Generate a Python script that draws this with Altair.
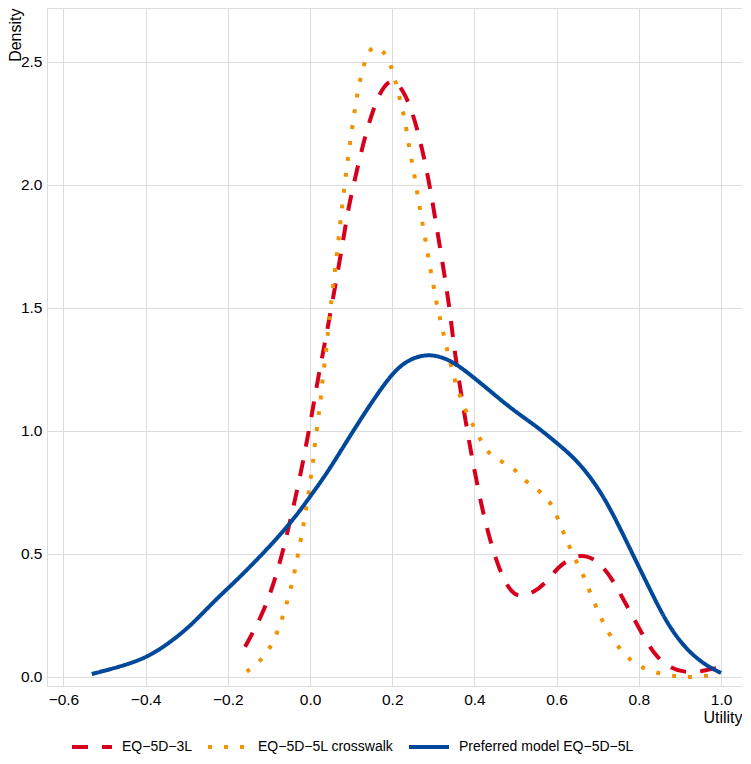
import altair as alt
import pandas as pd

S3L = "EQ\u22125D\u22123L"
SCW = "EQ\u22125D\u22125L crosswalk"
SPM = "Preferred model EQ\u22125D\u22125L"

# EQ-5D-3L (dashed red)
x_3l = [-0.158, -0.118, -0.089, -0.065, -0.045, -0.024, -0.008, 0.008, 0.02, 0.041,
        0.066, 0.08, 0.093, 0.114, 0.134, 0.158, 0.178, 0.202, 0.226, 0.248, 0.268, 0.28,
        0.292, 0.304, 0.316, 0.328, 0.341, 0.353, 0.382, 0.394, 0.414, 0.433, 0.455, 0.479,
        0.506, 0.543, 0.576, 0.603, 0.64, 0.673, 0.706, 0.737, 0.759, 0.786, 0.82, 0.844,
        0.876, 0.908, 0.949, 0.973, 0.998]
y_3l = [0.123, 0.245, 0.374, 0.516, 0.659, 0.814, 0.957, 1.099, 1.221, 1.40,
        1.634, 1.768, 1.906, 2.06, 2.2, 2.33, 2.4, 2.435, 2.386, 2.305, 2.18, 2.09,
        1.99, 1.87, 1.748, 1.626, 1.48, 1.30, 1.004, 0.894, 0.72, 0.585, 0.463, 0.366,
        0.321, 0.341, 0.386, 0.447, 0.49, 0.496, 0.463, 0.394, 0.325, 0.244, 0.138, 0.081,
        0.037, 0.02, 0.02, 0.033, 0.037]

# EQ-5D-5L crosswalk (dotted orange)
x_cw = [-0.154, -0.122, -0.097, -0.079, -0.065, -0.053, -0.043, -0.034, -0.026, -0.018,
        -0.011, -0.004, 0.002, 0.008, 0.012, 0.018, 0.023, 0.028, 0.032, 0.038, 0.042,
        0.049, 0.061, 0.071, 0.08, 0.09, 0.102, 0.114, 0.131, 0.151, 0.178,
        0.197, 0.209, 0.219, 0.229, 0.236, 0.243, 0.251, 0.258, 0.265, 0.272, 0.28, 0.287,
        0.294, 0.302, 0.309, 0.319, 0.328, 0.348, 0.36, 0.375, 0.394, 0.411, 0.433, 0.47,
        0.504, 0.53, 0.567, 0.594, 0.608, 0.625, 0.64, 0.662, 0.676, 0.693, 0.71, 0.73,
        0.754, 0.783, 0.82, 0.864, 0.908, 0.949, 0.993]
y_cw = [0.022, 0.062, 0.117, 0.184, 0.252, 0.32, 0.387, 0.455, 0.53, 0.598,
        0.668, 0.74, 0.814, 0.882, 0.95, 1.024, 1.092, 1.16, 1.234, 1.305, 1.377,
        1.492, 1.654, 1.805, 1.943, 2.081, 2.228, 2.366, 2.5, 2.573, 2.549,
        2.488, 2.415, 2.345, 2.28, 2.211, 2.134, 2.07, 1.996, 1.927, 1.858, 1.785, 1.715,
        1.646, 1.577, 1.508, 1.439, 1.37, 1.228, 1.167, 1.093, 1.033, 0.976, 0.906, 0.874,
        0.837, 0.785, 0.748, 0.687, 0.618, 0.557, 0.492, 0.427, 0.366, 0.297, 0.232, 0.167,
        0.114, 0.061, 0.028, 0.008, 0.0, 0.0, 0.012]

# Preferred model EQ-5D-5L (solid blue)
x_pm = [-0.531, -0.462, -0.401, -0.349, -0.292, -0.235, -0.178, -0.122, -0.073, -0.032,
        0.0, 0.041, 0.081, 0.122, 0.162, 0.203, 0.243, 0.292, 0.34, 0.382, 0.44, 0.494,
        0.55, 0.592, 0.65, 0.706, 0.75, 0.78, 0.82, 0.852, 0.88, 0.917, 0.96, 1.0]
y_pm = [0.012, 0.042, 0.076, 0.130, 0.205, 0.306, 0.394, 0.489, 0.577, 0.659,
        0.733, 0.828, 0.936, 1.045, 1.146, 1.241, 1.295, 1.315, 1.29, 1.24, 1.16, 1.085,
        1.02, 0.963, 0.882, 0.76, 0.62, 0.516, 0.38, 0.272, 0.19, 0.11, 0.05, 0.016]

series = [S3L, SCW, SPM]
colors = ["#D6001C", "#F39200", "#00489A"]
dashes = [[16, 14], [4, 12], [1, 0]]
x_ticks = [-0.6, -0.4, -0.2, 0.0, 0.2, 0.4, 0.6, 0.8, 1.0]
y_ticks = [0.0, 0.5, 1.0, 1.5, 2.0, 2.5]

rows = []
for name, xs, ys in [(S3L, x_3l, y_3l), (SCW, x_cw, y_cw), (SPM, x_pm, y_pm)]:
    for i, (a, b) in enumerate(zip(xs, ys)):
        rows.append({"series": name, "utility": a, "density": b, "order": i})
df = pd.DataFrame(rows)

FONT = "Liberation Sans"

leg = dict(title=None, orient="none", legendX=23, legendY=717,
           direction="horizontal", symbolType="stroke",
           symbolStrokeWidth=4, symbolSize=1600,
           labelFontSize=14, labelFont=FONT, labelColor="#000000", labelLimit=400,
           labelOffset=8, columnPadding=7, padding=0)

chart = alt.Chart(df).mark_line(strokeWidth=4, strokeCap="butt", interpolate="basis").encode(
    x=alt.X("utility:Q",
            scale=alt.Scale(domain=[-0.640, 1.051], nice=False, zero=False),
            axis=alt.Axis(values=x_ticks, format=".1f", title="Utility",
                          grid=True, gridColor="#DCDCDC", gridWidth=1,
                          domain=False, ticks=False, labelPadding=6,
                          labelFontSize=15.5, labelColor="#000000", labelFont=FONT,
                          titleFont=FONT, titleFontSize=16, titleFontWeight="normal",
                          titleColor="#000000", titleAnchor="end", titleAlign="right",
                          titleX=695, titleY=31, titleBaseline="middle")),
    y=alt.Y("density:Q",
            scale=alt.Scale(domain=[-0.0366, 2.7195], nice=False, zero=False),
            axis=alt.Axis(values=y_ticks, format=".1f", title="Density",
                          grid=True, gridColor="#DCDCDC", gridWidth=1,
                          domain=False, ticks=False, labelPadding=5,
                          labelFontSize=15.5, labelColor="#000000", labelFont=FONT,
                          titleFont=FONT, titleFontSize=16, titleFontWeight="normal",
                          titleColor="#000000", titleAngle=270, titleAlign="right",
                          titleBaseline="alphabetic", titleX=-27, titleY=0)),
    color=alt.Color("series:N", scale=alt.Scale(domain=series, range=colors),
                    legend=alt.Legend(**leg)),
    strokeDash=alt.StrokeDash("series:N", scale=alt.Scale(domain=series, range=dashes),
                              legend=alt.Legend(**leg)),
    order="order:Q",
).properties(
    width=695, height=678,
    autosize=alt.AutoSizeParams(type="none"),
    padding={"left": 39, "top": 0, "right": 0, "bottom": 70},
).configure_view(stroke=None).configure(background="white")

chart.save("out.html", embed_options={"renderer": "svg", "actions": False})
